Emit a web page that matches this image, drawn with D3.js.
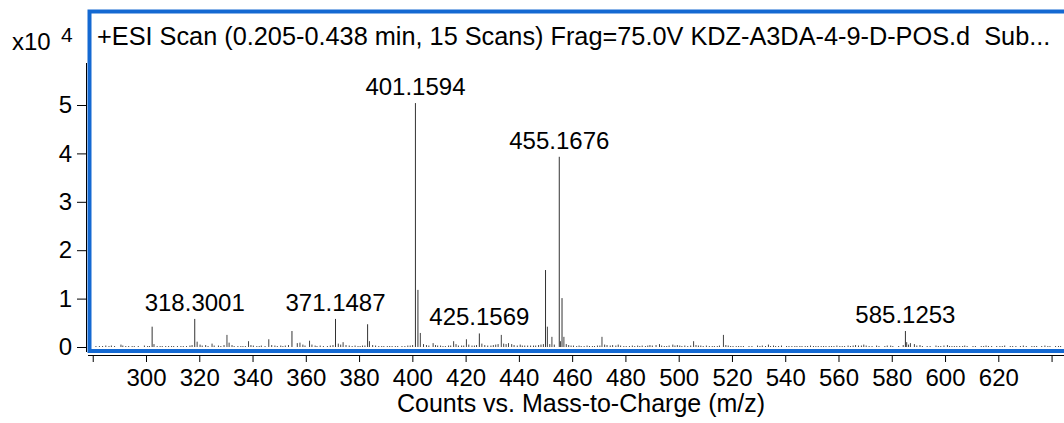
<!DOCTYPE html>
<html>
<head>
<meta charset="utf-8">
<script src="https://cdn.jsdelivr.net/npm/d3@7"></script>
<style>
  body { margin: 0; background: #fff; }
  svg { display: block; font-family: 'Liberation Sans', Arial, sans-serif; }
</style>
</head>
<body>
<div id="chart"></div>
<script>
// counts are in units of x10^4
const majorMz = [302.3, 318.3001, 354.8, 371.1487, 383.2, 401.1594, 402.1, 425.1569, 450.0, 455.1676, 456.2, 585.1253]
const majorCounts = [0.42, 0.58, 0.33, 0.58, 0.47, 5.04, 1.18, 0.28, 1.59, 3.93, 1.01, 0.33]

const labelMz = [318.3001, 371.1487, 401.1594, 425.1569, 455.1676, 585.1253]
const labelText = ['318.3001', '371.1487', '401.1594', '425.1569', '455.1676', '585.1253']

const minorPeaks = [
  [281.2, .02], [282.5, .02], [283.7, .02], [284.9, .03], [286.1, .02], [287.0, .03], [288.2, .02],
  [290.6, .05], [291.3, .03], [292.4, .02], [293.5, .02], [294.8, .02], [295.6, .02], [297.1, .02],
  [299.4, .03], [300.6, .02], [301.3, .02], [303.0, .06], [304.2, .02], [305.3, .02], [306.1, .02],
  [307.4, .02], [308.5, .02], [309.6, .02], [310.4, .02], [311.8, .02], [313.1, .02], [314.0, .02],
  [315.2, .02], [316.5, .03], [317.3, .04], [319.2, .11], [320.3, .05], [321.1, .03], [322.4, .04],
  [323.3, .02], [324.8, .07], [325.6, .03], [327.2, .03], [328.1, .02], [329.3, .04], [330.4, .25],
  [331.2, .09], [332.3, .04], [333.1, .02], [334.5, .02], [335.6, .02], [336.4, .02], [337.3, .02],
  [338.5, .12], [339.4, .04], [340.3, .03], [341.6, .02], [342.5, .02], [343.3, .03], [344.7, .02],
  [346.1, .16], [347.2, .04], [348.4, .03], [349.3, .02], [350.6, .03], [351.4, .02], [352.3, .03],
  [353.5, .04], [356.8, .08], [357.8, .09], [358.9, .05], [359.7, .03], [361.4, .13], [362.3, .05],
  [363.5, .03], [364.2, .02], [365.4, .03], [366.6, .02], [368.1, .02], [369.2, .03], [370.2, .04],
  [372.2, .07], [373.1, .05], [374.0, .10], [375.1, .04], [376.3, .03], [377.4, .02], [378.5, .03],
  [379.6, .02], [380.4, .02], [381.3, .03], [382.2, .03], [383.9, .12], [385.1, .04], [386.2, .03],
  [387.4, .02], [388.5, .02], [389.3, .02], [390.6, .02], [391.5, .02], [392.4, .02], [393.6, .02],
  [394.5, .02], [396.1, .02], [397.2, .02], [398.3, .03], [399.2, .03], [400.1, .04], [403.0, .29],
  [404.2, .06], [405.3, .04], [406.2, .03], [407.8, .08], [408.7, .04], [409.5, .03], [410.6, .03],
  [411.5, .02], [412.4, .02], [413.6, .03], [414.4, .03], [415.5, .12], [416.4, .06], [417.3, .03],
  [418.5, .03], [419.3, .03], [420.3, .16], [421.2, .05], [422.4, .03], [423.3, .03], [424.1, .04],
  [426.1, .07], [427.2, .04], [428.3, .03], [429.5, .03], [430.4, .04], [431.3, .05], [432.2, .06],
  [433.4, .25], [434.3, .07], [435.2, .06], [436.1, .08], [437.3, .06], [438.2, .04], [439.4, .03],
  [440.5, .05], [441.3, .03], [442.2, .03], [443.3, .03], [444.4, .03], [445.5, .03], [446.3, .03],
  [447.4, .04], [448.3, .05], [449.2, .06], [450.7, .42], [451.6, .06], [452.4, .21], [453.3, .05],
  [455.6, .12], [456.9, .21], [457.8, .06], [458.7, .04], [459.6, .03], [460.5, .03], [461.7, .02],
  [462.6, .03], [463.4, .02], [464.5, .02], [465.6, .03], [466.5, .02], [467.6, .02], [468.4, .02],
  [469.5, .03], [470.4, .03], [471.2, .21], [472.2, .05], [473.1, .04], [474.3, .03], [475.2, .04],
  [476.4, .03], [477.3, .05], [478.2, .03], [479.4, .02], [480.3, .02], [481.5, .02], [482.6, .03],
  [483.5, .02], [484.6, .03], [485.4, .02], [486.3, .03], [487.5, .02], [488.4, .03], [489.2, .04],
  [490.1, .03], [491.5, .04], [492.8, .06], [493.6, .03], [494.6, .02], [495.5, .02], [496.4, .03],
  [497.8, .05], [498.6, .03], [499.5, .04], [500.4, .03], [501.2, .02], [502.3, .03], [503.4, .02],
  [504.5, .03], [505.6, .12], [506.5, .04], [507.4, .03], [508.3, .03], [509.2, .02], [510.4, .03],
  [511.5, .02], [512.6, .02], [513.4, .02], [514.5, .02], [515.3, .03], [516.8, .25], [517.7, .04],
  [518.6, .03], [519.5, .02], [520.4, .02], [521.6, .02], [522.5, .02], [523.4, .02], [524.3, .02],
  [526.4, .02], [527.5, .02], [529.6, .03], [530.5, .02], [531.4, .03], [532.6, .02], [533.7, .05],
  [534.5, .02], [535.6, .03], [536.4, .02], [537.5, .02], [538.6, .03], [540.5, .02], [541.4, .02],
  [542.5, .02], [543.6, .02], [544.4, .02], [545.5, .02], [546.3, .02], [547.5, .02], [548.4, .02],
  [549.5, .03], [550.6, .02], [551.5, .02], [552.4, .02], [553.5, .02], [554.4, .02], [555.3, .02],
  [556.5, .02], [557.4, .02], [558.3, .02], [559.4, .03], [560.5, .02], [561.4, .02], [562.3, .02],
  [563.6, .03], [564.5, .02], [565.5, .03], [566.4, .04], [567.5, .03], [568.6, .03], [569.5, .05],
  [570.4, .03], [571.5, .02], [572.6, .02], [574.3, .03], [575.2, .02], [577.4, .02], [578.3, .03],
  [579.6, .03], [580.4, .02], [582.6, .02], [584.3, .04], [585.6, .10], [586.3, .05], [587.0, .08],
  [588.5, .06], [589.4, .03], [590.6, .04], [591.5, .02], [593.3, .02], [594.4, .02], [596.6, .03],
  [597.5, .02], [598.4, .02], [599.6, .03], [600.9, .04], [601.7, .02], [602.6, .02], [603.5, .02],
  [604.4, .02], [605.5, .02], [606.6, .02], [607.4, .03], [608.3, .02], [610.5, .02], [611.4, .02],
  [613.6, .02], [614.5, .02], [615.4, .03], [616.3, .02], [617.5, .02], [619.4, .02], [620.6, .02],
  [621.5, .02], [622.4, .03], [624.5, .02], [625.4, .02], [626.6, .02], [628.3, .02], [629.4, .03],
  [630.5, .02], [632.6, .02], [633.5, .02], [634.4, .02], [636.3, .02], [637.5, .03], [638.6, .02],
  [639.4, .02], [641.5, .02], [642.6, .02], [643.4, .02]
]

const xTicks = [280, 300, 320, 340, 360, 380, 400, 420, 440, 460, 480, 500, 520, 540, 560, 580, 600, 620, 640]
const xLabelled = [300, 320, 340, 360, 380, 400, 420, 440, 460, 480, 500, 520, 540, 560, 580, 600, 620]
const yTicks = [0, 1, 2, 3, 4, 5]

const titleText = '+ESI Scan (0.205-0.438 min, 15 Scans) Frag=75.0V KDZ-A3DA-4-9-D-POS.d  Sub...'

const width = 1064
const height = 423

const svg = d3
  .select('#chart')
  .append('svg')
  .attr('width', width)
  .attr('height', height)

const x = d3.scaleLinear().domain([300, 620]).range([146, 998.3])
const y = d3.scaleLinear().domain([0, 5]).range([347, 105])

// frame
svg
  .append('rect')
  .attr('x', 89.5)
  .attr('y', 11.5)
  .attr('width', 1000)
  .attr('height', 339.5)
  .attr('fill', 'white')
  .attr('stroke', '#1469d2')
  .attr('stroke-width', 4)

// y axis
const yAxis = svg
  .append('g')
  .attr('transform', 'translate(86,0)')
  .call(
    d3
      .axisLeft(y)
      .tickValues(yTicks)
      .tickSize(9)
      .tickPadding(5)
      .tickFormat(d3.format('d'))
  )
yAxis.select('.domain').remove()
yAxis.selectAll('line').attr('stroke', '#000')
yAxis
  .selectAll('text')
  .style('font-size', '24px')
  .attr('fill', '#000')
  .attr('font-family', null)
svg
  .append('line')
  .attr('x1', 86.5)
  .attr('x2', 86.5)
  .attr('y1', 63)
  .attr('y2', 352)
  .attr('stroke', '#000')

// x axis
const xAxis = svg
  .append('g')
  .attr('transform', 'translate(0,355)')
  .call(
    d3
      .axisBottom(x)
      .tickValues(xTicks)
      .tickSize(7)
      .tickPadding(7)
      .tickFormat(d => (xLabelled.includes(d) ? d : ''))
  )
xAxis.select('.domain').attr('d', 'M88,0.5H' + width)
xAxis
  .selectAll('text')
  .style('font-size', '24px')
  .attr('fill', '#000')
  .attr('font-family', null)

// baseline noise
svg
  .selectAll('.minor')
  .data(minorPeaks)
  .enter()
  .append('line')
  .attr('class', 'minor')
  .attr('x1', d => x(d[0]))
  .attr('x2', d => x(d[0]))
  .attr('y1', y(0))
  .attr('y2', d => y(d[1]))
  .attr('stroke', '#444')
  .attr('stroke-width', 1)

// main peaks
svg
  .selectAll('.major')
  .data(majorMz)
  .enter()
  .append('line')
  .attr('class', 'major')
  .attr('x1', d => x(d))
  .attr('x2', d => x(d))
  .attr('y1', y(0))
  .attr('y2', (d, i) => y(majorCounts[i]))
  .attr('stroke', '#333')
  .attr('stroke-width', 1)

// peak labels
svg
  .selectAll('.peak-label')
  .data(labelMz)
  .enter()
  .append('text')
  .attr('class', 'peak-label')
  .attr('x', d => x(d))
  .attr('y', d => y(majorCounts[majorMz.indexOf(d)]) - 8)
  .attr('text-anchor', 'middle')
  .style('font-size', '24px')
  .text((d, i) => labelText[i])

// title inside frame
svg
  .append('text')
  .attr('x', 97)
  .attr('y', 45)
  .style('font-size', '25.3px')
  .style('white-space', 'pre')
  .text(titleText)

// exponent
svg
  .append('text')
  .attr('x', 12)
  .attr('y', 50)
  .style('font-size', '24px')
  .text('x10')
svg
  .append('text')
  .attr('x', 61)
  .attr('y', 42)
  .style('font-size', '21px')
  .text('4')

// axis title
svg
  .append('text')
  .attr('x', 581)
  .attr('y', 412)
  .attr('text-anchor', 'middle')
  .style('font-size', '25px')
  .text('Counts vs. Mass-to-Charge (m/z)')
</script>
</body>
</html>
